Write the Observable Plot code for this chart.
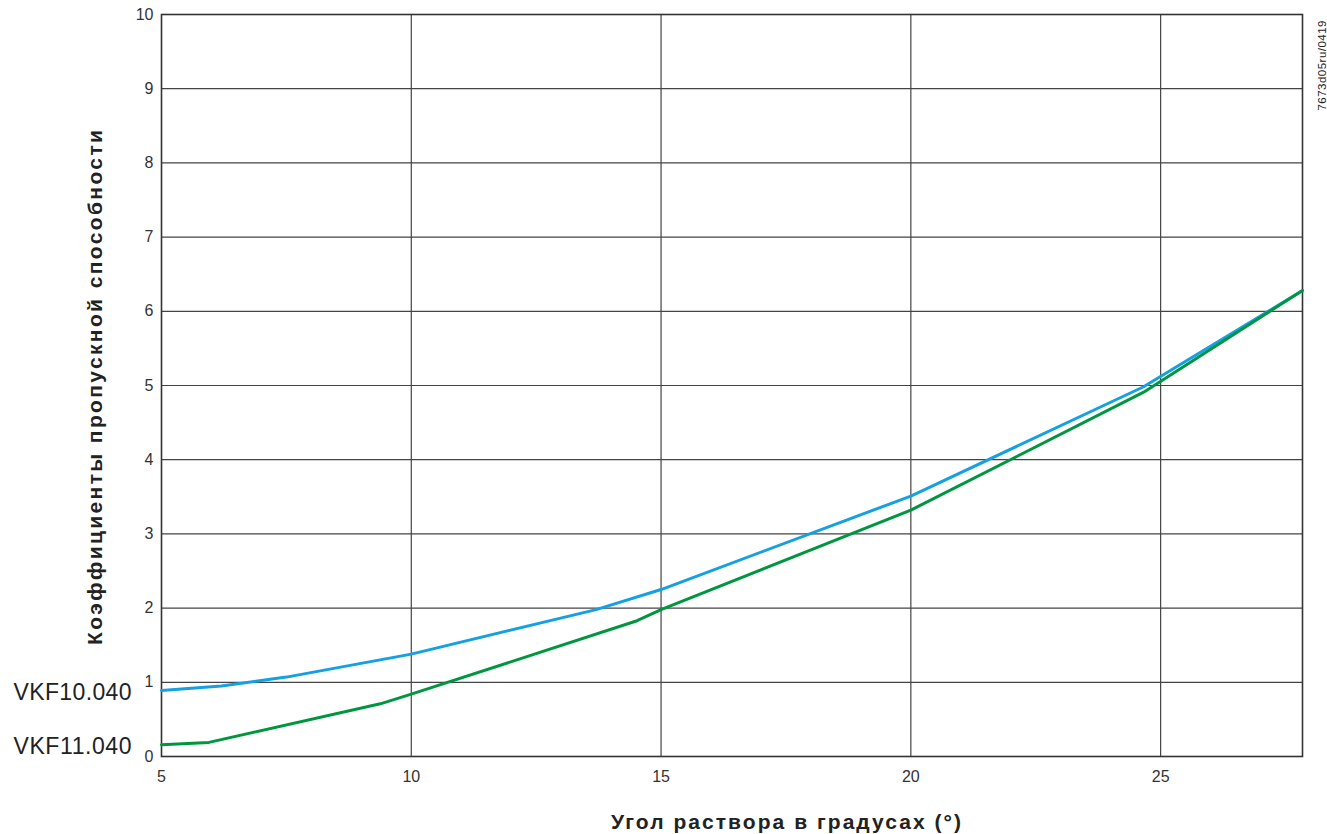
<!DOCTYPE html>
<html>
<head>
<meta charset="utf-8">
<script src="https://cdn.jsdelivr.net/npm/d3@7"></script>
<script src="https://cdn.jsdelivr.net/npm/@observablehq/plot@0.6"></script>
<style>
  html, body { margin: 0; padding: 0; background: #fff; }
  #chart { width: 1327px; height: 834px; }
</style>
</head>
<body>
<div id="chart"></div>
<script>
// ---- data ----
const seriesNames = ["VKF10.040", "VKF11.040"];
const seriesColors = ["#14a0e3", "#009640"];
const angles10 = [5, 6.2, 7.5, 10, 13.7, 15, 20, 24.65, 27.84];
const kv10 = [0.89, 0.95, 1.07, 1.38, 1.98, 2.25, 3.51, 4.98, 6.28];
const angles11 = [5, 5.95, 9.38, 10, 14.52, 15, 20, 24.66, 27.84];
const kv11 = [0.16, 0.19, 0.71, 0.84, 1.83, 1.98, 3.32, 4.91, 6.28];
const xTicks = [5, 10, 15, 20, 25];
const yTicks = [0, 1, 2, 3, 4, 5, 6, 7, 8, 9, 10];
const xDomain = [5, 27.84];
const yDomain = [0, 10];
const xLabel = "Угол раствора в градусах (°)";
const yLabel = "Коэффициенты пропускной способности";
const docCode = "7673d05ru/0419";

const rows = [
  ...angles10.map((a, i) => ({series: seriesNames[0], angle: a, k: kv10[i]})),
  ...angles11.map((a, i) => ({series: seriesNames[1], angle: a, k: kv11[i]}))
];
const starts = [
  {series: seriesNames[0], angle: angles10[0], k: kv10[0]},
  {series: seriesNames[1], angle: angles11[0], k: kv11[0]}
];

const chart = Plot.plot({
  width: 1327,
  height: 834,
  marginLeft: 161,
  marginRight: 25,
  marginTop: 14,
  marginBottom: 78,
  style: {fontFamily: "'Liberation Sans', Arial, sans-serif", fontSize: "16px", color: "#333", background: "#fff"},
  x: {domain: xDomain},
  y: {domain: yDomain},
  color: {domain: seriesNames, range: seriesColors},
  marks: [
    Plot.gridX(xTicks.filter(t => t !== xDomain[0]), {stroke: "#444", strokeOpacity: 1, strokeWidth: 1.2}),
    Plot.gridY(yTicks.filter(t => t !== 0 && t !== 10), {stroke: "#444", strokeOpacity: 1, strokeWidth: 1.2}),
    Plot.frame({stroke: "#333", strokeWidth: 1.6}),
    Plot.axisX({ticks: xTicks, tickSize: 0, tickPadding: 14, fontSize: 16, label: null}),
    Plot.axisY({ticks: yTicks, tickSize: 0, tickPadding: 8, fontSize: 16, label: null}),
    Plot.line(rows, {x: "angle", y: "k", z: "series", stroke: "series", strokeWidth: 3}),
    Plot.text(starts, {x: "angle", y: "k", text: "series", textAnchor: "end", dx: -30, dy: 2, fontSize: 23, fill: "#222", className: "serieslabel"}),
    Plot.text([xLabel], {frameAnchor: "bottom", textAnchor: "middle", lineAnchor: "middle", dx: 54, dy: 66, fontSize: 21, fontWeight: "bold", fill: "#222", className: "xlab"}),
    Plot.text([yLabel], {frameAnchor: "left", textAnchor: "middle", lineAnchor: "middle", dx: -66, dy: 2, rotate: -90, fontSize: 21, fontWeight: "bold", fill: "#222", className: "ylab"}),
    Plot.text([docCode], {frameAnchor: "top-right", textAnchor: "middle", lineAnchor: "middle", dx: 20, dy: 51, rotate: -90, fontSize: 11.5, fill: "#222", className: "code"})
  ]
});
// stretch letter spacing to the reference's text widths
d3.select(chart).selectAll(".xlab text").attr("textLength", 350).attr("lengthAdjust", "spacing");
d3.select(chart).selectAll(".ylab text").attr("textLength", 515).attr("lengthAdjust", "spacing");
d3.select(chart).selectAll(".serieslabel text").attr("textLength", 118).attr("lengthAdjust", "spacing");
d3.select(chart).selectAll(".code text").attr("textLength", 90).attr("lengthAdjust", "spacing");
document.getElementById("chart").append(chart);
</script>
</body>
</html>
